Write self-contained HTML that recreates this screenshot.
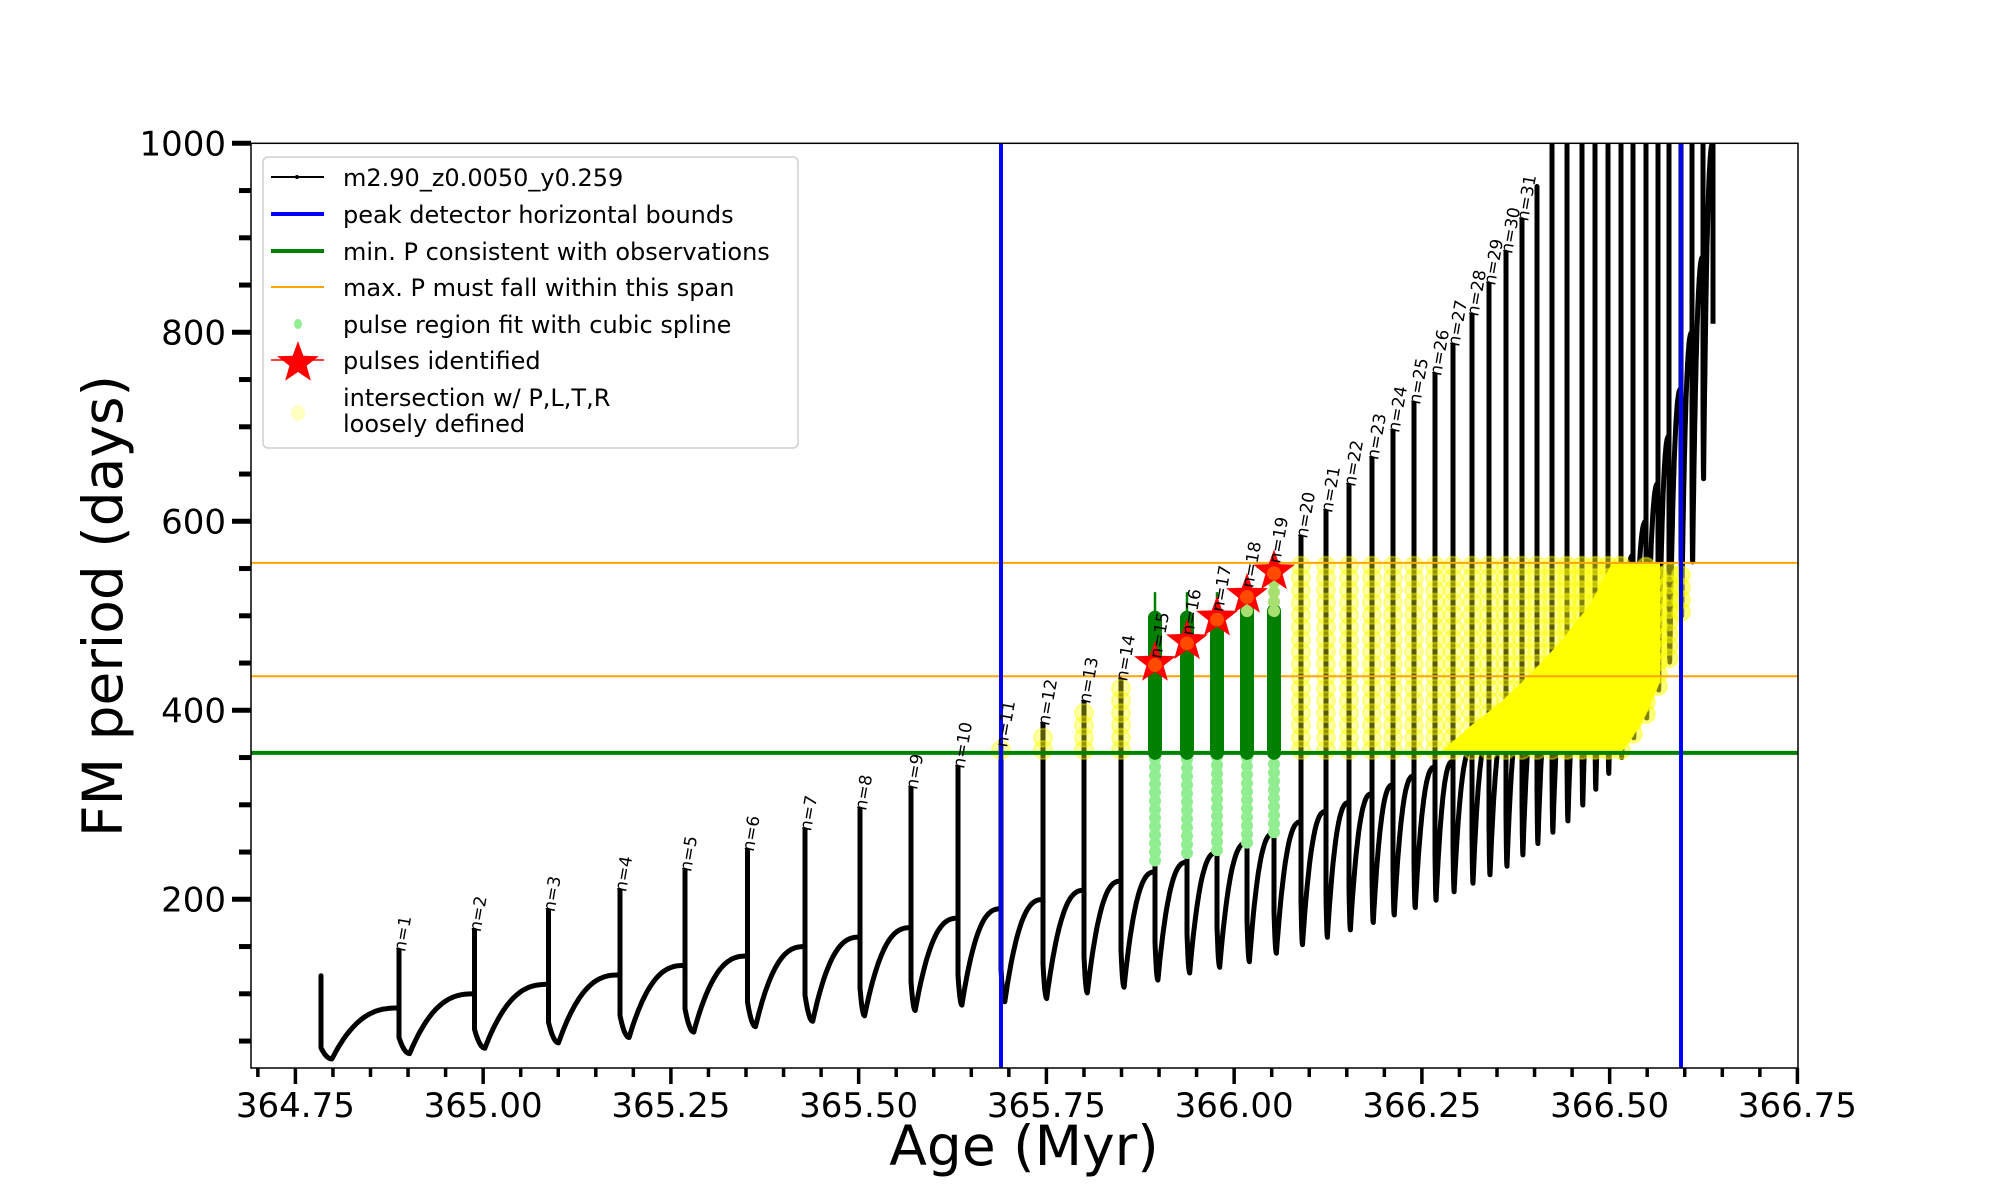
<!DOCTYPE html>
<html><head><meta charset="utf-8">
<style>
html,body{margin:0;padding:0;background:#fff;}
svg{display:block;}
text{font-family:"DejaVu Sans","Liberation Sans",sans-serif;}
</style></head>
<body>
<svg id="s" width="2000" height="1200" xmlns="http://www.w3.org/2000/svg">
<defs><clipPath id="cp"><rect x="251" y="143.3" width="1547" height="925"/></clipPath></defs>
<rect width="2000" height="1200" fill="#fff"/>
<g id="plot" clip-path="url(#cp)"></g>
<g id="labels"></g>
<rect x="251" y="143.3" width="1547" height="924.7" fill="none" stroke="#000" stroke-width="1.5"/>
<g id="ticks"></g>
<text x="1024" y="1165" font-size="55" text-anchor="middle">Age (Myr)</text>
<text transform="translate(122,606) rotate(-90)" font-size="55" text-anchor="middle">FM period (days)</text>
<g id="legend">
<rect x="263" y="157" width="535" height="291" rx="5" fill="#fff" fill-opacity="0.85" stroke="#d0d0d0" stroke-width="1.5"/>
<line x1="271" y1="177" x2="324" y2="177" stroke="#000" stroke-width="2"/>
<circle cx="297" cy="177" r="2" fill="#000"/>
<line x1="271" y1="214" x2="324" y2="214" stroke="#00f" stroke-width="4"/>
<line x1="271" y1="251" x2="324" y2="251" stroke="#008000" stroke-width="4"/>
<line x1="271" y1="287" x2="324" y2="287" stroke="#ffa500" stroke-width="2"/>
<ellipse cx="298" cy="324" rx="4" ry="5" fill="#90ee90"/>
<polygon id="lstar" fill="#f00"/>
<line x1="271" y1="360" x2="324" y2="360" stroke="#f00" stroke-width="1.5"/>
<ellipse cx="298" cy="413" rx="7" ry="8" fill="#ffff99" fill-opacity="0.6"/>
<g font-size="24" fill="#000">
<text x="343" y="186">m2.90_z0.0050_y0.259</text>
<text x="343" y="223">peak detector horizontal bounds</text>
<text x="343" y="260">min. P consistent with observations</text>
<text x="343" y="296">max. P must fall within this span</text>
<text x="343" y="333">pulse region fit with cubic spline</text>
<text x="343" y="369">pulses identified</text>
<text x="343" y="406">intersection w/ P,L,T,R</text>
<text x="343" y="432">loosely defined</text>
</g>
</g>
</svg>
<script>
var NS="http://www.w3.org/2000/svg";
function Y(p){return 143.3+(1000-p)*0.945;}
function X(a){return 295.4+(a-364.75)*751;}
function el(t,a,par){var e=document.createElementNS(NS,t);for(var k in a)e.setAttribute(k,a[k]);(par||document.getElementById('plot')).appendChild(e);return e;}
function interp(tab,n){for(var i=0;i<tab.length-1;i++){if(n<=tab[i+1][0]){var a=tab[i],b=tab[i+1];return a[1]+(b[1]-a[1])*(n-a[0])/(b[0]-a[0]);}}return tab[tab.length-1][1];}
var xs=[321,399,474.5,548.5,620,685,747.5,805,860,911,958,1001,1043,1084,1121,1155,1187,1217,1247,1274,1301,1326,1349,1372,1393,1414,1435,1453,1472,1489,1506,1522,1537,1552,1567,1582,1595,1608,1621,1633,1646,1658,1669,1681,1692,1703,1713];
var N=xs.length;
function peak(n){if(n==0)return 119;if(n>=33)return 1050;return Math.min(1050,125+21*n+0.0048*n*n*n);}
var minT=[[0,31],[10,88],[12,95],[14,107],[16,122],[18,134],[20,152],[26,199],[30,235],[34,283],[38,350],[40,392],[42,451],[43,500],[44,557],[45,645],[46,809]];
var baseT=[[0,85],[1,100],[10,190],[14,229],[18,270],[19,282],[20,293],[25,340],[26,346],[30,400],[34,470],[37,545],[38,564],[39,600],[40,640],[41,690],[42,740],[43,800],[44,880],[45,1000],[46,1100]];
function mn(n){return interp(minT,n);}
function bs(n){return interp(baseT,n);}
var d="";
for(var n=0;n<N;n++){
  var x0=xs[n], x1=(n<N-1)?xs[n+1]:1716, dx=x1-x0;
  var pk=peak(n), m=mn(n), b=bs(n);
  var prev=(n==0)?65:bs(n-1);
  d+=(n==0?"M":"L")+x0+","+Y(prev).toFixed(1)+" L"+x0+","+Y(pk).toFixed(1);
  var vb=m+0.35*(prev-m); if(vb>prev)vb=prev;
  d+=" L"+x0+","+Y(Math.min(vb,pk)).toFixed(1);
  var off=(n<8)?0.14:(n<20?0.09:0.06);
  if(n==N-1){ d+=" L"+x0+","+Y(809).toFixed(1); break;}
  for(var i=1;i<=6;i++){var s=i/6;var v=vb+(m-vb)*(1-(1-s)*(1-s));d+=" L"+(x0+off*dx*s).toFixed(1)+","+Y(v).toFixed(1);}
  for(var i=1;i<=30;i++){var s=i/30;var g=1-Math.pow(1-s,2.6);var v=m+(b-m)*g;d+=" L"+(x0+off*dx+(1-off)*dx*s).toFixed(1)+","+Y(v).toFixed(1);}
}
el('path',{d:d,fill:'none',stroke:'#000','stroke-width':5,'stroke-linejoin':'round'});
for(var n=20;n<N;n++){var top=Math.min(peak(n),1000),bot=mn(n);
  for(var p=bot;p<top;p+=22){el('circle',{cx:xs[n],cy:Y(p),r:2.6,fill:'#000'});}}
el('polygon',{points:[[1440,355],[1470,383],[1500,408],[1530,438],[1560,472],[1590,512],[1612,556],[1660,556],[1660,430],[1646,395],[1633,372],[1621,355]].map(function(q){return q[0]+","+Y(q[1]).toFixed(1);}).join(" "),fill:'#ffff00'});
function ycol(x,lo,hi,op){for(var p=lo;p<=hi;p+=13){el('circle',{cx:x,cy:Y(p),r:9,fill:'#ffff00','fill-opacity':op,stroke:'#ffff00','stroke-opacity':0.4,'stroke-width':2});}}
for(var n=11;n<=14;n++){ycol(xs[n],358,peak(n)-4,0.35);}
for(var n=20;n<N;n++){var lo=Math.max(358,mn(n)+4);var hi=Math.min(553,peak(n));if(n>=43)hi=553;if(lo<hi)ycol(xs[n],lo,hi,n>=34&&n<=43?0.5:0.35);}
el('line',{x1:251,x2:1798,y1:Y(556),y2:Y(556),stroke:'#ffa500','stroke-width':2});
el('line',{x1:251,x2:1798,y1:Y(436),y2:Y(436),stroke:'#ffa500','stroke-width':2});
el('line',{x1:251,x2:1798,y1:Y(355),y2:Y(355),stroke:'#008000','stroke-width':4});
el('line',{x1:1001,x2:1001,y1:140,y2:1070,stroke:'#00f','stroke-width':4});
el('line',{x1:1681,x2:1681,y1:140,y2:1070,stroke:'#00f','stroke-width':4});
var gTop=[498,498,498,505,505],lgBot=[241,249,252,260,271],lineTop=[525,525,525,0,0];
for(var k=0;k<5;k++){var n=15+k,x=xs[n];
  if(lineTop[k])el('line',{x1:x,x2:x,y1:Y(lineTop[k]),y2:Y(355),stroke:'#008000','stroke-width':2.5});
  for(var p=lgBot[k];p<352;p+=9)el('circle',{cx:x,cy:Y(p),r:6,fill:'#90ee90'});
  el('line',{x1:x,x2:x,y1:Y(gTop[k]),y2:Y(355),stroke:'#008000','stroke-width':14,'stroke-linecap':'round'});
  if(k>=3){for(var p=gTop[k];p<peak(n)-2;p+=10)el('circle',{cx:x,cy:Y(p),r:6,fill:'#a8e070'});}
}
function star(cx,cy,R,r){var pts=[];for(var i=0;i<10;i++){var ang=-Math.PI/2+i*Math.PI/5;var rr=i%2?r:R;pts.push((cx+rr*Math.cos(ang)).toFixed(1)+","+(cy+rr*Math.sin(ang)).toFixed(1));}return pts.join(" ");}
var sp=[450,473,498,522,547];
for(var k=0;k<5;k++){el('polygon',{points:star(xs[15+k],Y(sp[k]),22,9),fill:'#ff0000'});
  el('circle',{cx:xs[15+k],cy:Y(sp[k])+2,r:7,fill:'#ffa500','fill-opacity':0.45});}
document.getElementById('lstar').setAttribute('points',star(298,363,22,9));
var lab=document.getElementById('labels');
for(var n=1;n<=31;n++){var x=xs[n]+6,y=Y(Math.min(peak(n),985))+2;
  var t=el('text',{transform:'translate('+x+','+y+') rotate(-80)','font-size':17,'fill':'#000'},lab);t.textContent='n='+n;}
var tk=document.getElementById('ticks');
for(var p=50;p<=1000;p+=50){var maj=(p%200==0);
  el('line',{x1:maj?232:239,x2:251,y1:Y(p),y2:Y(p),stroke:'#000','stroke-width':5},tk);
  if(maj){var t=el('text',{x:226,y:Y(p)+12,'font-size':34,'text-anchor':'end'},tk);t.textContent=p;}}
for(var i=0;i<=41;i++){var a=364.70+i*0.05;var x=X(a);var maj=(Math.round(a*100)%25==0);
  el('line',{x1:x,x2:x,y1:1068,y2:maj?1084:1077,stroke:'#000','stroke-width':3.5},tk);
  if(maj){var t=el('text',{x:x,y:1117,'font-size':34,'text-anchor':'middle'},tk);t.textContent=a.toFixed(2);}}
</script>
</body></html>
